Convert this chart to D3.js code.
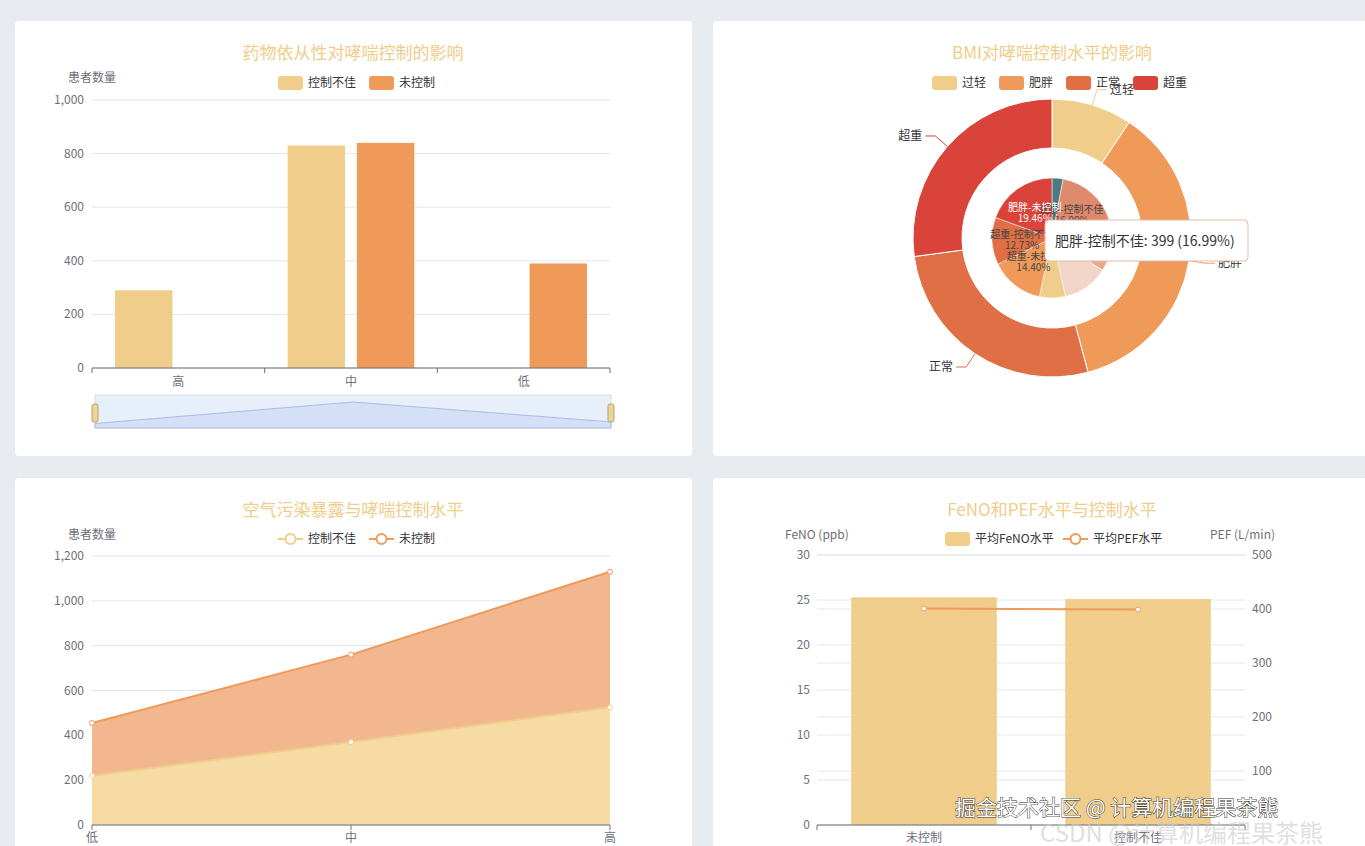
<!DOCTYPE html>
<html><head><meta charset="utf-8">
<script src="https://cdn.jsdelivr.net/npm/d3@7"></script>
<style>
body{margin:0;background:#e8ebf0;font-family:"Noto Sans CJK SC","Noto Sans",sans-serif;overflow:hidden}
svg text{font-family:"Noto Sans CJK SC","Noto Sans",sans-serif}
</style></head><body>
<svg id="c" width="1365" height="846"></svg>
<script>
// chart 1
const adherence = ["高", "中", "低"];
const adhPoor = [290, 830, 0];
const adhNone = [0, 840, 390];
// chart 2
const bmiCats = ["过轻", "肥胖", "正常", "超重"];
const bmiVals = [220, 856, 635, 637];
const innerCats = ["过轻-未控制", "肥胖-控制不佳", "正常-控制不佳", "正常-未控制", "过轻-控制不佳", "超重-未控制", "超重-控制不佳", "肥胖-未控制"];
const innerVals = [70, 399, 330, 290, 165, 338, 299, 457];
// chart 3
const pollution = ["低", "中", "高"];
const polPoor = [220, 370, 525];
const polNone = [235, 390, 605];
// chart 4
const ctrlCats = ["未控制", "控制不佳"];
const fenoVals = [25.3, 25.1];
const pefVals = [401, 399];

const C1 = "#f0cd8a", C2 = "#f09a5a", C3 = "#e06f45", C4 = "#d9433a";
const svg = d3.select("#c");
const grey = "#6e7079";

// panels
[[15, 21, 677, 435], [713, 21, 660, 435], [15, 478, 677, 380], [713, 478, 660, 380]].forEach(p => {
  svg.append("rect").attr("x", p[0]).attr("y", p[1]).attr("width", p[2]).attr("height", p[3])
    .attr("rx", 4).attr("fill", "#fff");
});

function title(x, y, t) {
  svg.append("text").attr("x", x).attr("y", y).attr("text-anchor", "middle")
    .attr("font-size", 17).attr("fill", "#f0cd8a").text(t);
}
function legendRect(x, y, items) {
  let cx = x;
  items.forEach(([t, c]) => {
    svg.append("rect").attr("x", cx).attr("y", y - 7).attr("width", 25).attr("height", 14).attr("rx", 3).attr("fill", c);
    const tx = svg.append("text").attr("x", cx + 30).attr("y", y + 4).attr("font-size", 12).attr("fill", "#333").text(t);
    cx += 35 + tx.node().getComputedTextLength() + 8;
  });
}
function legendLine(x, y, items) {
  let cx = x;
  items.forEach(([t, c]) => {
    svg.append("line").attr("x1", cx).attr("x2", cx + 25).attr("y1", y).attr("y2", y).attr("stroke", c).attr("stroke-width", 2);
    svg.append("circle").attr("cx", cx + 12.5).attr("cy", y).attr("r", 5).attr("fill", "#fff").attr("stroke", c).attr("stroke-width", 2);
    const tx = svg.append("text").attr("x", cx + 30).attr("y", y + 4).attr("font-size", 12).attr("fill", "#333").text(t);
    cx += 35 + tx.node().getComputedTextLength() + 8;
  });
}
function yAxis(g, scale, x, ticks, fmt, x1, x2, right) {
  scale.ticks(ticks).forEach(v => {
    g.append("line").attr("x1", x1).attr("x2", x2).attr("y1", scale(v)).attr("y2", scale(v)).attr("stroke", "#e0e6f1");
    g.append("text").attr("x", x).attr("y", scale(v) + 4).attr("text-anchor", right ? "start" : "end")
      .attr("font-size", 12).attr("fill", grey).text(fmt(v));
  });
}

// ---- chart 1
title(353, 59, "药物依从性对哮喘控制的影响");
legendRect(278, 83, [["控制不佳", C1], ["未控制", C2]]);
svg.append("text").attr("x", 68).attr("y", 82).attr("font-size", 12).attr("fill", grey).text("患者数量");
{
  const g = svg.append("g");
  const x = d3.scaleBand().domain(adherence).range([92, 610]);
  const y = d3.scaleLinear().domain([0, 1000]).range([368, 100]);
  yAxis(g, y, 84, 5, d3.format(","), 92, 610);
  const sub = d3.scaleBand().domain([0, 1]).range([23, x.bandwidth() - 23]).paddingInner(0.17);
  [[adhPoor, C1], [adhNone, C2]].forEach(([vals, c], k) => {
    g.selectAll(null).data(adherence).join("rect")
      .attr("x", d => x(d) + sub(k)).attr("width", sub.bandwidth())
      .attr("y", (d, i) => y(vals[i])).attr("height", (d, i) => y(0) - y(vals[i])).attr("fill", c);
  });
  g.append("line").attr("x1", 92).attr("x2", 610).attr("y1", 368).attr("y2", 368).attr("stroke", grey);
  adherence.forEach((d, i) => {
    g.append("line").attr("x1", x(d)).attr("x2", x(d)).attr("y1", 368).attr("y2", 373).attr("stroke", grey);
    g.append("text").attr("x", x(d) + x.bandwidth() / 2).attr("y", 386).attr("text-anchor", "middle").attr("font-size", 12).attr("fill", grey).text(d);
  });
  g.append("line").attr("x1", 610).attr("x2", 610).attr("y1", 368).attr("y2", 373).attr("stroke", grey);
  // data zoom
  g.append("rect").attr("x", 95).attr("y", 395).attr("width", 516).attr("height", 33).attr("fill", "#e7effa").attr("stroke", "#d2dbee");
  const tot = adherence.map((d, i) => adhPoor[i] + adhNone[i]);
  const zx = d3.scalePoint().domain(adherence).range([95, 611]);
  const zy = d3.scaleLinear().domain([0, d3.max(tot)]).range([428, 402]);
  g.append("path").attr("d", d3.area().x((d, i) => zx(adherence[i])).y0(428).y1(d => zy(d))(tot))
    .attr("fill", "#d4e0f5").attr("stroke", "#a9bde6");
  [95, 611].forEach(hx => g.append("rect").attr("x", hx - 3).attr("y", 404).attr("width", 6).attr("height", 18).attr("rx", 2).attr("fill", "#e9d59a").attr("stroke", "#b8a26a"));
}

// ---- chart 2
title(1052, 59, "BMI对哮喘控制水平的影响");
legendRect(932, 83, [["过轻", C1], ["肥胖", C2], ["正常", C3], ["超重", C4]]);
{
  const cx = 1052, cy = 238;
  const g = svg.append("g").attr("transform", `translate(${cx},${cy})`);
  const pie = d3.pie().sort(null);
  const outer = pie(bmiVals);
  const oc = [C1, C2, C3, C4];
  const arcO = d3.arc().innerRadius(90).outerRadius(139);
  g.selectAll(null).data(outer).join("path").attr("d", arcO).attr("fill", (d, i) => oc[i]).attr("stroke", "#fff").attr("stroke-width", 1);
  outer.forEach((d, i) => {
    const a = (d.startAngle + d.endAngle) / 2;
    const p1 = [Math.sin(a) * 139, -Math.cos(a) * 139], p2 = [Math.sin(a) * 155, -Math.cos(a) * 155];
    const right = Math.sin(a) > 0;
    const p3 = [p2[0] + (right ? 10 : -10), p2[1]];
    g.append("polyline").attr("points", [p1, p2, p3].join(" ")).attr("fill", "none").attr("stroke", oc[i]);
    g.append("text").attr("x", p3[0] + (right ? 3 : -3)).attr("y", p3[1] + 4).attr("text-anchor", right ? "start" : "end")
      .attr("font-size", 12).attr("fill", "#333").text(bmiCats[i]);
  });
  const ic = ["#4b7b82", "#df8a6d", "#e9a889", "#f3d4c9", "#f0cd8a", "#f09a5a", "#e06f45", "#d9433a"];
  const inner = pie(innerVals);
  const arcI = d3.arc().innerRadius(0).outerRadius(60);
  g.selectAll(null).data(inner).join("path").attr("d", arcI).attr("fill", (d, i) => ic[i]).attr("stroke", "#fff").attr("stroke-width", 0.5);
  const tot = d3.sum(innerVals);
  const arcL = d3.arc().innerRadius(30).outerRadius(30);
  inner.forEach((d, i) => {
    if (![1, 5, 6, 7].includes(i)) return;
    const [lx, ly] = arcL.centroid(d);
    const t = g.append("text").attr("x", lx).attr("y", ly - 2).attr("text-anchor", "middle").attr("font-size", 10)
      .attr("fill", i === 7 ? "#fff" : "#444");
    t.append("tspan").attr("x", lx).text(innerCats[i]);
    t.append("tspan").attr("x", lx).attr("dy", 11).text((innerVals[i] / tot * 100).toFixed(2) + "%");
  });
  // tooltip
  const tip = svg.append("g").attr("transform", "translate(1045,220)");
  tip.append("rect").attr("width", 203).attr("height", 41).attr("rx", 4).attr("fill", "#fff").attr("stroke", "#e5b9a6");
  tip.append("text").attr("x", 10).attr("y", 26).attr("font-size", 14).attr("fill", "#333")
    .text(`${innerCats[1]}: ${innerVals[1]} (${(innerVals[1] / tot * 100).toFixed(2)}%)`);
}

// ---- chart 3
title(353, 516, "空气污染暴露与哮喘控制水平");
legendLine(278, 539, [["控制不佳", C1], ["未控制", C2]]);
svg.append("text").attr("x", 68).attr("y", 539).attr("font-size", 12).attr("fill", grey).text("患者数量");
{
  const g = svg.append("g");
  const x = d3.scalePoint().domain(pollution).range([92, 610]);
  const y = d3.scaleLinear().domain([0, 1200]).range([825, 556]);
  yAxis(g, y, 84, 6, d3.format(","), 92, 610);
  const top = polPoor.map((v, i) => v + polNone[i]);
  g.append("path").attr("d", d3.area().x((d, i) => x(pollution[i])).y0((d, i) => y(polPoor[i])).y1(d => y(d))(top)).attr("fill", "#f2b78f");
  g.append("path").attr("d", d3.area().x((d, i) => x(pollution[i])).y0(y(0)).y1(d => y(d))(polPoor)).attr("fill", "#f6dba5");
  [[polPoor, C1], [top, C2]].forEach(([vals, c]) => {
    g.append("path").attr("d", d3.line().x((d, i) => x(pollution[i])).y(d => y(d))(vals)).attr("fill", "none").attr("stroke", c).attr("stroke-width", 2);
    vals.forEach((v, i) => g.append("circle").attr("cx", x(pollution[i])).attr("cy", y(v)).attr("r", 2.5).attr("fill", "#fff").attr("stroke", c));
  });
  g.append("line").attr("x1", 92).attr("x2", 610).attr("y1", 825).attr("y2", 825).attr("stroke", grey);
  pollution.forEach(d => {
    g.append("line").attr("x1", x(d)).attr("x2", x(d)).attr("y1", 825).attr("y2", 830).attr("stroke", grey);
    g.append("text").attr("x", x(d)).attr("y", 842).attr("text-anchor", "middle").attr("font-size", 12).attr("fill", grey).text(d);
  });
}

// ---- chart 4
title(1052, 516, "FeNO和PEF水平与控制水平");
legendRect(945, 539, [["平均FeNO水平", C1]]);
legendLine(1063, 539, [["平均PEF水平", C2]]);
svg.append("text").attr("x", 785).attr("y", 539).attr("font-size", 12).attr("fill", grey).text("FeNO (ppb)");
svg.append("text").attr("x", 1210).attr("y", 539).attr("font-size", 12).attr("fill", grey).text("PEF (L/min)");
{
  const g = svg.append("g");
  const x = d3.scaleBand().domain(ctrlCats).range([817, 1245]).paddingInner(0.32).paddingOuter(0.16);
  const y = d3.scaleLinear().domain([0, 30]).range([825, 555]);
  const y2 = d3.scaleLinear().domain([0, 500]).range([825, 555]);
  yAxis(g, y, 810, 6, d => d, 817, 1245);
  yAxis(g, y2, 1252, 5, d => d === 0 ? "" : d, 817, 1245, true);
  g.selectAll(null).data(ctrlCats).join("rect").attr("x", d => x(d)).attr("width", x.bandwidth())
    .attr("y", (d, i) => y(fenoVals[i])).attr("height", (d, i) => y(0) - y(fenoVals[i])).attr("fill", C1);
  const xc = d => x(d) + x.bandwidth() / 2;
  g.append("path").attr("d", d3.line().x((d, i) => xc(ctrlCats[i])).y(d => y2(d))(pefVals)).attr("fill", "none").attr("stroke", C2).attr("stroke-width", 2);
  pefVals.forEach((v, i) => g.append("circle").attr("cx", xc(ctrlCats[i])).attr("cy", y2(v)).attr("r", 2.5).attr("fill", "#fff").attr("stroke", C2));
  g.append("line").attr("x1", 817).attr("x2", 1245).attr("y1", 825).attr("y2", 825).attr("stroke", grey);
  [817, 1031, 1245].forEach(t => g.append("line").attr("x1", t).attr("x2", t).attr("y1", 825).attr("y2", 830).attr("stroke", grey));
  ctrlCats.forEach(d => g.append("text").attr("x", xc(d)).attr("y", 842).attr("text-anchor", "middle").attr("font-size", 12).attr("fill", grey).text(d));
}

// watermark
svg.append("text").attr("x", 1040).attr("y", 842).attr("font-size", 24).attr("fill", "#ccc").attr("opacity", 0.6).text("CSDN @计算机编程果茶熊");
svg.append("text").attr("x", 955).attr("y", 815).attr("font-size", 21).attr("fill", "#fff")
  .attr("stroke", "#333").attr("stroke-width", 1).attr("paint-order", "stroke").text("掘金技术社区 @ 计算机编程果茶熊");
</script>
</body></html>
